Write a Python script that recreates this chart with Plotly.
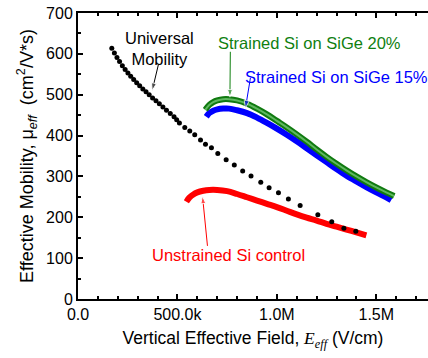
import plotly.graph_objects as go

# Universal mobility (dots)
univ_x = [170, 183, 196, 209, 223, 237, 251, 265, 280, 295, 310, 326, 342, 358, 375, 392, 409, 427, 445, 464, 483, 496,
          510, 537, 562, 587, 616, 641, 671, 703, 745, 786, 828, 870, 919, 961, 1008, 1058, 1117, 1206, 1276, 1337, 1397]
univ_y = [614, 602, 591, 581, 571, 562, 553, 545, 537, 529, 522, 514, 507, 500, 492, 485, 478, 470, 462, 454, 446, 439,
          431, 420, 411, 402, 389, 379, 370, 356, 341, 328, 313, 301, 286, 272, 260, 245, 229, 206, 189, 173, 166]

# Strained Si on SiGe 20%
g20_x = [640, 660, 680, 700, 730, 760, 800, 850, 900, 950, 1000, 1050, 1100, 1150, 1200, 1250, 1300, 1350, 1400, 1450, 1500, 1550, 1590]
g20_y = [463, 475, 482, 486, 489, 489, 486, 478, 466, 452, 436, 420, 403, 385, 366, 348, 331, 315, 300, 286, 273, 261, 252]

# Strained Si on SiGe 15%
g15_x = [645, 660, 680, 700, 730, 760, 800, 850, 900, 950, 1000, 1050, 1100, 1150, 1200, 1250, 1300, 1350, 1400, 1450, 1500, 1550, 1575]
g15_y = [446, 455, 461, 464, 466, 466, 462, 455, 444, 431, 417, 402, 386, 369, 352, 335, 318, 302, 288, 274, 261, 249, 242]

# Unstrained Si control
ctl_x = [545, 560, 580, 600, 630, 660, 700, 750, 800, 850, 900, 950, 1000, 1050, 1100, 1150, 1200, 1250, 1300, 1350, 1400, 1450]
ctl_y = [238, 248, 256, 261, 265, 267, 267, 264, 257, 249, 241, 233, 225, 216, 207, 199, 192, 184, 177, 170, 163, 156]

x_tickvals = [0, 500000, 1000000, 1500000]
x_ticktext = ["0.0", "500.0k", "1.0M", "1.5M"]
y_tickvals = [0, 100, 200, 300, 400, 500, 600, 700]

k = lambda arr: [v * 1000 for v in arr]

FONT = "Liberation Sans, Arial, sans-serif"

fig = go.Figure()
fig.add_trace(go.Scatter(x=k(ctl_x), y=ctl_y, mode="lines", line=dict(color="#ff0000", width=6, shape="spline"), showlegend=False))
fig.add_trace(go.Scatter(x=k(g15_x), y=g15_y, mode="lines", line=dict(color="#0000ff", width=6, shape="spline"), showlegend=False))
fig.add_trace(go.Scatter(x=k(g20_x), y=g20_y, mode="lines", line=dict(color="#107a10", width=6, shape="spline"), showlegend=False))
fig.add_trace(go.Scatter(x=k(g20_x), y=g20_y, mode="lines", line=dict(color="#5fb85f", width=2, shape="spline"), showlegend=False))
fig.add_trace(go.Scatter(x=k(univ_x), y=univ_y, mode="markers", marker=dict(color="black", size=5), showlegend=False))

def arrow(x0, y0, x1, y1, color):
    fig.add_trace(go.Scatter(x=[x0, x1], y=[y0, y1], mode="lines+markers",
                             line=dict(color=color, width=1),
                             marker=dict(symbol=["circle", "arrow"], size=[0, 8], color=color, angleref="previous"),
                             showlegend=False, hoverinfo="skip", cliponaxis=False))

def label(x, y, text, color):
    fig.add_annotation(x=x, y=y, xref="x", yref="y", text=text, showarrow=False,
                       font=dict(family=FONT, size=16.5, color=color), align="center")

label(410000, 614, "Universal<br>Mobility", "black")
arrow(404000, 573, 373000, 510, "black")
label(1166000, 626, "Strained Si on SiGe 20%", "#108010")
arrow(766000, 605, 764000, 494, "#108010")
label(1299000, 544, "Strained Si on SiGe 15%", "#0000ff")
arrow(867000, 541, 842000, 467, "#0000ff")
label(756000, 108, "Unstrained Si control", "#ff0000")
arrow(651000, 130, 626000, 252, "#ff0000")

fig.update_layout(
    width=428, height=358,
    margin=dict(l=78, r=0, t=13, b=59),
    plot_bgcolor="white", paper_bgcolor="white",
    font=dict(family=FONT, size=16, color="black"),
    xaxis=dict(
        range=[0, 1760000], tickvals=x_tickvals, ticktext=x_ticktext, automargin=False,
        showline=True, linecolor="black", linewidth=2, mirror="ticks",
        ticks="inside", ticklen=5, tickwidth=1.5, tickcolor="black",
        minor=dict(dtick=100000, tick0=0, ticks="inside", ticklen=3, tickwidth=1.5, tickcolor="black"),
        showgrid=False, zeroline=False,
        tickfont=dict(size=16),
        title=dict(text="Vertical Effective Field, <span style=\"font-family:'Liberation Serif'\"><i>E</i><sub><i>eff</i></sub></span> (V/cm)",
                   font=dict(size=17.5), standoff=10),
    ),
    yaxis=dict(
        range=[0, 700], tickvals=y_tickvals, automargin=False,
        showline=True, linecolor="black", linewidth=2,
        ticks="inside", ticklen=5, tickwidth=1.5, tickcolor="black",
        minor=dict(dtick=50, tick0=0, ticks="inside", ticklen=3, tickwidth=1.5, tickcolor="black"),
        showgrid=False, zeroline=False,
        tickfont=dict(size=16),
        title=dict(text="Effective Mobility, μ<sub><i>eff</i></sub>  (cm<sup>2</sup>/V*s)",
                   font=dict(size=18), standoff=8),
    ),
)

fig.write_html("out.html", config={"displayModeBar": False},
               post_script="document.body.style.margin='0';document.body.style.overflow='hidden';")
